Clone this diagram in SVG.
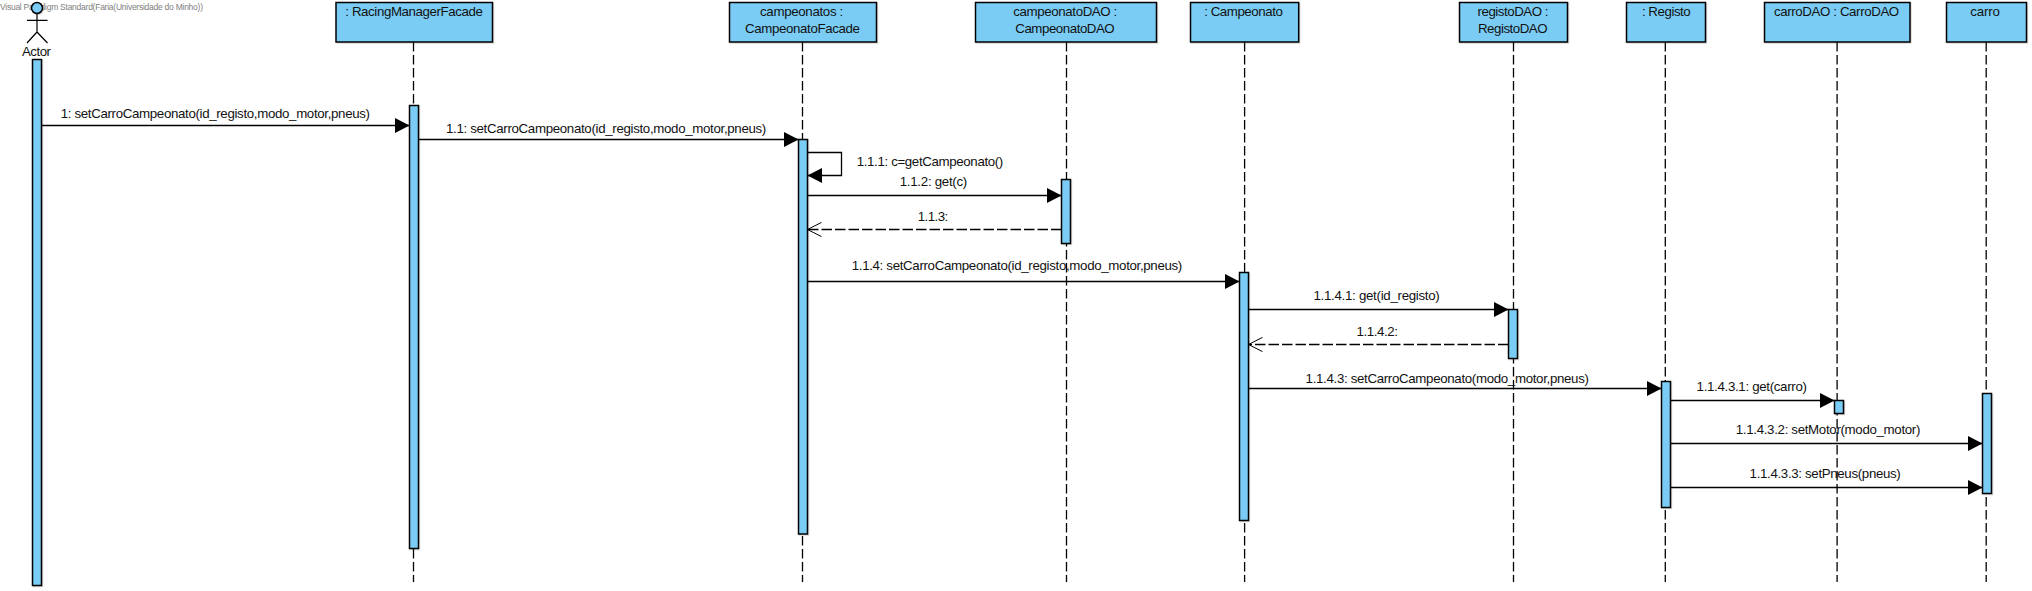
<svg xmlns="http://www.w3.org/2000/svg" width="2032" height="591" viewBox="0 0 2032 591">
<style>
text{font-family:"Liberation Sans",Arial,sans-serif;font-size:13.3px;fill:#111;text-anchor:start}
.wm{font-size:8.5px;fill:#808080}
.box,.bar,.head{fill:#7accf5;stroke:#000;stroke-width:1.5;filter:url(#sh)}
.life{stroke:#000;stroke-width:1.3;stroke-dasharray:9.5 3.5;fill:none}
.msg{stroke:#000;stroke-width:1.3;fill:none;marker-end:url(#solid)}
.ret{stroke:#000;stroke-width:1.3;fill:none;stroke-dasharray:10.5 3;marker-end:url(#open)}
.fig{stroke:#000;stroke-width:1.2;fill:none}
</style>
<defs>
<filter id="sh" x="-20%" y="-20%" width="140%" height="140%"><feDropShadow dx="1" dy="1" stdDeviation="0.5" flood-color="#000" flood-opacity="0.15"/></filter>
<marker id="solid" markerUnits="userSpaceOnUse" markerWidth="18" markerHeight="18" refX="15.5" refY="9" orient="auto"><path d="M1 1.5L15.500 9L1 16.500Z" fill="#000"/></marker>
<marker id="open" markerUnits="userSpaceOnUse" markerWidth="18" markerHeight="18" refX="15.5" refY="9" orient="auto"><path d="M1.500 1.900L15.500 9L1.500 16.100" fill="none" stroke="#000" stroke-width="1"/></marker>
</defs>
<rect width="2032" height="591" fill="#fff"/>
<text class="wm" x="0" y="10" textLength="203">Visual Paradigm Standard(Faria(Universidade do Minho))</text>
<g id="actor">
<rect class="bar" x="32.5" y="59.5" width="9" height="526"/>
<circle class="head" cx="37" cy="8" r="5.5"/>
<path class="fig" d="M37 13.5V32M27 20.3H47.5M27 43L37 32L47.5 43"/>
<text x="22" y="56" textLength="29">Actor</text>
</g>
<g id="racingManagerFacade">
<path class="life" d="M413.500 42V582"/>
<rect class="box" x="336" y="2.500" width="156.500" height="39.500"/>
<rect class="bar" x="409.500" y="105.500" width="9" height="443"/>
<text x="345.300" y="16" textLength="137.700">: RacingManagerFacade</text>
</g>
<g id="campeonatos">
<path class="life" d="M802.500 42V582"/>
<rect class="box" x="729.500" y="2.500" width="147" height="39.500"/>
<rect class="bar" x="798.500" y="139.500" width="9" height="394.500"/>
<text x="760" y="16" textLength="83.300">campeonatos :</text>
<text x="745" y="33" textLength="115">CampeonatoFacade</text>
</g>
<g id="campeonatoDAO">
<path class="life" d="M1066.500 42V582"/>
<rect class="box" x="975.500" y="2.500" width="181" height="39.500"/>
<rect class="bar" x="1061.500" y="179.500" width="9" height="64"/>
<text x="1013.300" y="16" textLength="104">campeonatoDAO :</text>
<text x="1015.300" y="33" textLength="99.400">CampeonatoDAO</text>
</g>
<g id="campeonato">
<path class="life" d="M1244.600 42V582"/>
<rect class="box" x="1190.500" y="2.500" width="108.200" height="39.500"/>
<rect class="bar" x="1239.500" y="272.500" width="9" height="248"/>
<text x="1204.200" y="16" textLength="78.600">: Campeonato</text>
</g>
<g id="registoDAO">
<path class="life" d="M1513.500 42V582"/>
<rect class="box" x="1459.500" y="2.500" width="108" height="39.500"/>
<rect class="bar" x="1508.500" y="309.500" width="9" height="49"/>
<text x="1477.500" y="16" textLength="71">registoDAO :</text>
<text x="1478" y="33" textLength="69.500">RegistoDAO</text>
</g>
<g id="registo">
<path class="life" d="M1665.300 42V582"/>
<rect class="box" x="1626.500" y="2.500" width="79" height="39.500"/>
<rect class="bar" x="1661.500" y="381.500" width="9" height="126"/>
<text x="1641.900" y="16" textLength="48.800">: Registo</text>
</g>
<g id="carroDAO">
<path class="life" d="M1837.100 42V582"/>
<rect class="box" x="1764.500" y="2.500" width="145.500" height="39.500"/>
<rect class="bar" x="1834.500" y="400.500" width="9" height="13"/>
<text x="1774" y="16" textLength="125.200">carroDAO : CarroDAO</text>
</g>
<g id="carro">
<path class="life" d="M1986.200 42V582"/>
<rect class="box" x="1946.500" y="2.500" width="80" height="39.500"/>
<rect class="bar" x="1982.500" y="393.500" width="9" height="100"/>
<text x="1970.300" y="16" textLength="29.700">carro</text>
</g>
<g id="connectors">
<path class="msg" d="M41.500 125.500H409.500"/>
<path class="msg" d="M418.500 139.500H798.500"/>
<path class="msg" d="M807.500 152.500H841.500V175.500H807.500"/>
<path class="msg" d="M807.500 195.500H1061.500"/>
<path class="ret" d="M1061.500 229.500H807.500"/>
<path class="msg" d="M807.500 281.500H1239.500"/>
<path class="msg" d="M1248.500 309.500H1508.500"/>
<path class="ret" d="M1508.500 344.500H1248.500"/>
<path class="msg" d="M1248.500 388.500H1661.500"/>
<path class="msg" d="M1670.500 400.500H1834.500"/>
<path class="msg" d="M1670.500 443.500H1982.500"/>
<path class="msg" d="M1670.500 487.500H1982.500"/>
<text x="60.700" y="118" textLength="309.300">1: setCarroCampeonato(id_registo,modo_motor,pneus)</text>
<text x="446" y="133" textLength="320.300">1.1: setCarroCampeonato(id_registo,modo_motor,pneus)</text>
<text x="856.700" y="166" textLength="146.600">1.1.1: c=getCampeonato()</text>
<text x="899.700" y="186" textLength="67.600">1.1.2: get(c)</text>
<text x="917.700" y="220.500" textLength="30.600">1.1.3:</text>
<text x="851.700" y="270" textLength="330.600">1.1.4: setCarroCampeonato(id_registo,modo_motor,pneus)</text>
<text x="1313.500" y="300" textLength="126.300">1.1.4.1: get(id_registo)</text>
<text x="1356.500" y="336" textLength="41.400">1.1.4.2:</text>
<text x="1305.600" y="383" textLength="283.300">1.1.4.3: setCarroCampeonato(modo_motor,pneus)</text>
<text x="1696.600" y="391" textLength="110.300">1.1.4.3.1: get(carro)</text>
<text x="1735.800" y="434" textLength="184.600">1.1.4.3.2: setMotor(modo_motor)</text>
<text x="1749.600" y="478" textLength="151.200">1.1.4.3.3: setPneus(pneus)</text>
</g>
</svg>
